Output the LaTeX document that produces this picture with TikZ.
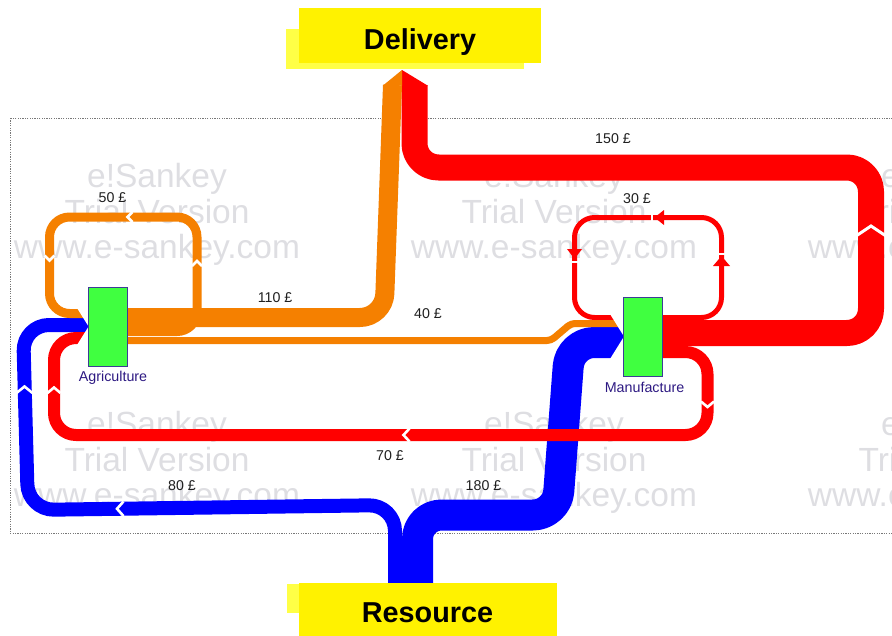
\documentclass[tikz,border=0pt]{standalone}
\usepackage{fontspec}
\setmainfont{Liberation Sans}
\usetikzlibrary{calc}
\definecolor{sorange}{RGB}{245,128,0}
\definecolor{sred}{RGB}{255,0,0}
\definecolor{sblue}{RGB}{0,0,255}
\definecolor{sgreen}{RGB}{64,255,64}
\definecolor{nodeborder}{RGB}{60,60,150}
\definecolor{nodetext}{RGB}{45,25,130}
\definecolor{wmgray}{RGB}{222,222,226}
\definecolor{framegray}{RGB}{120,120,120}
\definecolor{backyellow}{RGB}{255,255,70}
\pgfdeclarelayer{bg}
\pgfsetlayers{bg,main}
\begin{document}
\begin{tikzpicture}[x=1pt,y=-1pt,
  flow/.style={line cap=butt, line join=round},
  chev/.style={white, line width=2.6, line join=miter, line cap=butt},
  flab/.style={font=\fontsize{14.2}{16}\selectfont, text=black!88, inner sep=0},
  nlab/.style={font=\fontsize{14.3}{16}\selectfont, text=nodetext, inner sep=0},
  wmark/.style={font=\fontsize{33.5}{36}\selectfont, text=wmgray, anchor=base, inner sep=0},
  proc/.style={draw=nodeborder, fill=sgreen, line width=1, minimum width=39, minimum height=79, inner sep=0, outer sep=0},
  ybox/.style={fill=yellow, inner sep=0, outer sep=0},
  btitle/.style={font=\fontsize{28.8}{32}\selectfont\bfseries, text=black, anchor=base, inner sep=0}
]
\useasboundingbox (0,0) rectangle (892,635);
\clip (0,0) rectangle (892,635);

% ---------- nodes ----------
\node[proc] (agri) at (107.5,326.5) {};
\node[proc] (manu) at (643,336.5) {};
\node[nlab] (agrilab) at (113,377.5) {Agriculture};
\node[nlab] (manulab) at (644.5,387.5) {Manufacture};

\fill[backyellow] (286,29) rectangle (524,69);
\node[ybox, minimum width=242, minimum height=55] (dlv) at (420,35.5) {};
\node[btitle] (dlvtxt) at (420,49.5) {Delivery};

\fill[backyellow] (287,584) rectangle (300,613);
\node[ybox, minimum width=258, minimum height=58] (res) at (428,612) {};
\node[btitle] (restxt) at (427.5,622) {Resource};

\coordinate (dtip) at (402,70);

\begin{pgfonlayer}{bg}
% ---------- watermark ----------
\foreach \cx/\i in {157/1,554/2,951/3}{
  \foreach \dy/\j in {0/1,248/2}{
    \node[wmark] (wa\i\j) at (\cx,187+\dy) {e!Sankey};
    \node[wmark] (wb\i\j) at (\cx,223+\dy) {Trial Version};
    \node[wmark] (wc\i\j) at (\cx,258+\dy) {www.e-sankey.com};
  }
}
% ---------- frame ----------
\draw[framegray, line width=1, dash pattern=on 1.2 off 1.2] (10,118) rectangle (905,533);

% ---------- flows ----------
% Blue 180 Resource -> Manufacture
\draw[flow, sblue, line width=31, rounded corners=24]
  ($(res.north)+(-10.5,0)$) -- (417.5,515) -- (557,515) -- (570,342.5) -- ($(manu.west)+(0,6)$);
% Blue 80 Resource -> Agriculture
\draw[flow, sblue, line width=14, rounded corners=26]
  ($(res.north)+(-33,0)$) -- (395,505) -- (28,510) -- (23,325) -- ($(agri.west)+(0,-1.5)$);
% Red 70 Manufacture -> Agriculture
\draw[flow, sred, line width=12, rounded corners=22]
  ($(manu.east)+(0,15.5)$) -- (707.5,352) -- (707.5,435) -- (54,435) -- (54,338) -- ($(agri.west)+(0,11.5)$);
% Red 150 Manufacture -> Delivery
\draw[flow, sred, line width=26, rounded corners=24]
  ($(manu.east)+(0,-3.5)$) -- (871,333) -- (871,167.5) -- (414.5,167.5) -- ($(dtip)+(12.5,15)$);
\fill[sred] ($(dtip)+(-0.5,15.5)$) -- (dtip) -- ($(dtip)+(25.5,15.5)$) -- cycle;
% Red 30 loop Manufacture
\draw[flow, sred, line width=5, rounded corners=20]
  ($(manu.east)+(0,-19)$) -- (721.5,317.5) -- (721.5,217.5) -- (574.5,217.5) -- (574.5,317.5) -- ($(manu.west)+(0,-19)$);
% Orange 110 Agriculture -> Delivery
\draw[flow, sorange, line width=19, rounded corners=24]
  ($(agri.east)+(0,-9)$) -- (384,317.5) -- ($(dtip)+(-9.5,15)$);
\fill[sorange] ($(dtip)+(-19,15.5)$) -- (dtip) -- ($(dtip)+(0,15.5)$) -- cycle;
% Orange 50 loop Agriculture
\draw[flow, sorange, line width=9, rounded corners=20]
  ($(agri.east)+(0,5)$) -- (197,331.5) -- (197,217) -- (49.5,217) -- (49.5,313.5) -- ($(agri.west)+(0,-13)$);
% Orange 40 Agriculture -> Manufacture
\draw[flow, sorange, line width=7, rounded corners=4]
  ($(agri.east)+(0,14)$) -- (551,340.5) -- (571,323.5) -- ($(manu.west)+(0,-13)$);

% ---------- direction marks ----------
\draw[chev, line width=3] (856,236) -- (871,226) -- (886,236);
\draw[chev] (44.5,255.5) -- (49.5,260.5) -- (54.5,255.5);
\draw[chev] (192,266) -- (197,261) -- (202,266);
\draw[chev] (132.5,212) -- (127.5,217) -- (132.5,222);
\draw[chev] (701,401.5) -- (707.5,407) -- (714,401.5);
\draw[chev] (409.5,428.5) -- (403.5,435) -- (409.5,441.5);
\draw[chev] (47.5,393) -- (54,387.5) -- (60.5,393);
\draw[chev] (123.5,501.5) -- (117,508.8) -- (123.5,516);
\draw[chev] (16.5,393) -- (24.5,386.5) -- (32.5,393);
% red 30 loop arrowheads
\draw[white, line width=2] (718,253.5) -- (725,253.5);
\fill[sred] (721.5,256) -- (713,266) -- (730,266) -- cycle;
\draw[white, line width=2] (652,214) -- (652,221);
\fill[sred] (654.5,217.5) -- (664,210) -- (664,225) -- cycle;
\draw[white, line width=2] (571,261.5) -- (578,261.5);
\fill[sred] (574.5,259) -- (567,249) -- (582,249) -- cycle;

% ---------- arrow tips into nodes ----------
\fill[white] (77,308) -- (88.6,308) -- (88.6,326.5) -- cycle;
\fill[white] (77,345) -- (88.6,345) -- (88.6,326.5) -- cycle;
\fill[white] (610,314) -- (624,314) -- (624,336.5) -- cycle;
\fill[white] (610,359) -- (624,359) -- (624,336.5) -- cycle;
\end{pgfonlayer}

% ---------- flow labels ----------
\node[flab] (l50)  at (112.5,198) {50 £};
\node[flab] (l110) at (275,297.5) {110 £};
\node[flab] (l40)  at (428,314) {40 £};
\node[flab] (l150) at (613,139) {150 £};
\node[flab] (l30)  at (637,199) {30 £};
\node[flab] (l70)  at (390,456) {70 £};
\node[flab] (l80)  at (182,486) {80 £};
\node[flab] (l180) at (483.5,486) {180 £};
\end{tikzpicture}
\end{document}
